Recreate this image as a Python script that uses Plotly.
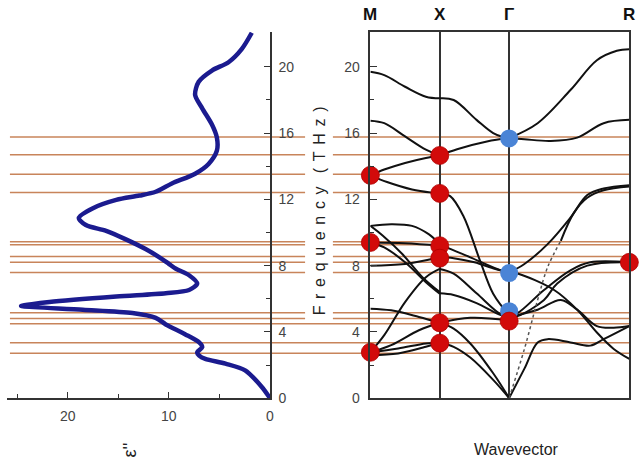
import plotly.graph_objects as go

# ---------------- data ----------------
eps2 = [0.0, 0.83, 2.46, 4.4, 6.4, 7.0, 7.2, 6.7, 7.0, 8.4, 10.3, 11.3, 13.6, 18.5, 24.4, 24.6,
        21.8, 15.2, 10.3, 8.0, 7.2, 8.0, 9.3, 10.0, 10.7, 12.3, 14.3, 16.2, 18.2, 18.9, 17.5,
        15.2, 12.9, 11.3, 9.7, 7.4, 6.07, 5.25, 5.25, 5.74, 6.7, 7.4, 7.05, 5.74, 4.1, 2.8, 1.8]
freq_eps = [0.0, 0.69, 1.68, 2.08, 2.37, 2.57, 2.77, 3.07, 3.36, 3.86, 4.45, 4.85, 5.14, 5.34, 5.54, 5.57,
            5.8, 6.13, 6.33, 6.53, 6.92, 7.42, 7.81, 8.11, 8.41, 9.0, 9.6, 10.1, 10.45, 10.88, 11.47,
            11.97, 12.23, 12.46, 12.96, 13.55, 14.14, 14.94, 15.73, 16.52, 17.5, 18.3, 19.1, 19.78, 20.28, 21.07, 22.06]

guide_freqs = [15.77, 14.70, 13.51, 12.42, 9.44, 9.26, 8.55, 8.21, 7.58, 5.15, 4.81, 4.49, 3.34, 2.71]

kpoint_labels = ["M", "X", "Γ", "R"]
kpoint_pos = [0.0, 0.5, 1.0, 1.866]

branches_MX = [
    [(0, 19.7), (0.2, 19.5), (0.5, 18.8), (0.8, 18.2), (1, 18.1)],
    [(0, 16.75), (0.2, 16.6), (0.5, 15.8), (0.8, 15.0), (1, 14.65)],
    [(0, 13.45), (0.2, 13.8), (0.5, 14.2), (0.8, 14.5), (1, 14.65)],
    [(0, 13.45), (0.24, 13.05), (0.6, 12.6), (0.9, 12.4), (1, 12.36)],
    [(0, 10.4), (0.3, 10.5), (0.6, 10.4), (0.84, 9.9), (1, 9.3)],
    [(0, 10.4), (0.18, 9.8), (0.46, 8.7), (0.75, 7.3), (1, 6.4)],
    [(0, 9.4), (0.5, 9.35), (1, 9.2)],
    [(0, 9.4), (0.2, 9.1), (0.5, 8.2), (0.8, 7.0), (1, 6.3)],
    [(0, 8.0), (0.5, 8.1), (1, 8.5)],
    [(0, 5.4), (0.3, 5.3), (0.7, 4.9), (1, 4.55)],
    [(0, 2.77), (0.2, 3.8), (0.5, 5.8), (0.8, 7.3), (1, 7.8)],
    [(0, 2.77), (0.3, 3.2), (0.7, 4.1), (1, 4.55)],
    [(0, 2.77), (0.4, 3.0), (0.8, 3.3), (1, 3.36)],
    [(0, 2.6), (0.4, 2.7), (0.8, 3.1), (1, 3.36)],
]
branches_XG = [
    [(0, 18.1), (0.2, 18.0), (0.53, 16.8), (0.77, 16.0), (0.92, 15.75), (1, 15.7)],
    [(0, 14.65), (0.25, 15.03), (0.68, 15.5), (1, 15.7)],
    [(0, 12.36), (0.15, 12.2), (0.34, 11.0), (0.58, 8.3), (0.77, 6.3), (1, 5.0)],
    [(0, 9.3), (0.1, 9.1), (0.44, 8.5), (0.89, 7.7), (1, 7.6)],
    [(0, 8.5), (0.2, 8.45), (0.5, 8.2), (0.8, 7.8), (1, 7.6)],
    [(0, 7.8), (0.2, 7.52), (0.53, 6.33), (0.89, 5.04), (1, 5.0)],
    [(0, 6.33), (0.2, 6.23), (0.53, 5.74), (0.89, 5.0), (1, 4.95)],
    [(0, 4.55), (0.44, 4.85), (1, 4.7)],
    [(0, 4.55), (0.2, 4.2), (0.44, 3.3), (0.77, 1.5), (1, 0.0)],
    [(0, 3.36), (0.2, 3.1), (0.44, 2.45), (0.77, 1.1), (1, 0.0)],
]
branches_GR = [
    [(0, 15.7), (0.237, 16.6), (0.51, 18.6), (0.73, 20.4), (0.896, 20.97), (1, 21.07)],
    [(0, 15.7), (0.127, 15.63), (0.346, 15.53), (0.566, 15.73), (0.786, 16.6), (1, 16.8)],
    [(0, 7.6), (0.127, 8.1), (0.32, 9.3), (0.51, 10.9), (0.65, 12.26), (0.786, 12.66), (1, 12.86)],
    [(0.43, 9.5), (0.54, 11.2), (0.65, 12.1), (0.786, 12.55), (1, 12.78)],
    [(0, 7.6), (0.07, 7.52), (0.374, 6.53), (0.566, 5.34), (0.73, 3.96), (0.87, 2.97), (1, 2.37)],
    [(0, 5.0), (0.07, 5.14), (0.29, 6.53), (0.51, 7.72), (0.675, 8.2), (1, 8.2)],
    [(0, 4.9), (0.07, 4.95), (0.29, 5.93), (0.40, 6.92), (0.65, 8.0), (1, 8.2)],
    [(0, 4.9), (0.237, 5.34), (0.43, 5.93), (0.566, 5.34), (0.73, 4.35), (0.87, 4.25), (1, 4.35)],
    [(0, 0.0), (0.127, 1.78), (0.237, 3.36), (0.32, 3.56), (0.51, 3.36), (0.675, 3.17), (0.786, 3.56), (1, 4.35)],
]
branch_GR_dotted = [(0, 0.0), (0.127, 2.97), (0.237, 5.93), (0.32, 7.9), (0.43, 9.5)]

red_modes = [(0, 13.45), (0, 9.4), (0, 2.77), (1, 14.65), (1, 12.36), (1, 9.2), (1, 8.45),
             (1, 4.55), (1, 3.32), (2, 4.65), (3, 8.2)]
blue_modes = [(2, 15.68), (2, 7.55), (2, 5.25)]

# ---------------- figure ----------------
W, H = 640, 472
fig = go.Figure()

fig.add_trace(go.Scatter(x=eps2, y=freq_eps, mode="lines", xaxis="x", yaxis="y",
                         line=dict(color="#1b1b8f", width=4.5, shape="spline", smoothing=0.8),
                         hoverinfo="skip", showlegend=False))

segments = [(0, 1, branches_MX), (1, 2, branches_XG), (2, 3, branches_GR)]
for a, b, brs in segments:
    k0, k1 = kpoint_pos[a], kpoint_pos[b]
    for br in brs:
        fig.add_trace(go.Scatter(x=[k0 + t * (k1 - k0) for t, _ in br], y=[w for _, w in br],
                                 mode="lines", xaxis="x2", yaxis="y2",
                                 line=dict(color="#111111", width=2, shape="spline", smoothing=1.0),
                                 hoverinfo="skip", showlegend=False))
k0, k1 = kpoint_pos[2], kpoint_pos[3]
fig.add_trace(go.Scatter(x=[k0 + t * (k1 - k0) for t, _ in branch_GR_dotted],
                         y=[w for _, w in branch_GR_dotted], mode="lines", xaxis="x2", yaxis="y2",
                         line=dict(color="#555555", width=1.5, dash="dot", shape="spline"),
                         hoverinfo="skip", showlegend=False))

fig.add_trace(go.Scatter(x=[kpoint_pos[i] for i, _ in blue_modes], y=[w for _, w in blue_modes],
                         mode="markers", xaxis="x2", yaxis="y2", cliponaxis=False,
                         marker=dict(size=18, color="#4a84d6", line=dict(width=0)),
                         hoverinfo="skip", showlegend=False))
fig.add_trace(go.Scatter(x=[kpoint_pos[i] for i, _ in red_modes], y=[w for _, w in red_modes],
                         mode="markers", xaxis="x2", yaxis="y2", cliponaxis=False,
                         marker=dict(size=18, color="#d20a0a", line=dict(width=0.8, color="#b00000")),
                         hoverinfo="skip", showlegend=False))

left_x0, left_x1 = 7, 271.7
right_x0, right_x1 = 372.7, 633.3
y_bot, y_top = 405, 32.3
ymax = 22.12
px = lambda p: p / W
py = lambda p: 1 - p / H

FONT = "Arial, Liberation Sans, sans-serif"
tickfont = dict(family=FONT, size=14, color="#444444")
axcol = "#333333"

shapes = []
for f in guide_freqs:
    pieces = [(10, 307), (335, 633)] if f > 4.65 else [(10, 633)]
    for a, b in pieces:
        shapes.append(dict(type="line", xref="paper", yref="y", x0=px(a), x1=px(b), y0=f, y1=f,
                           line=dict(color="#c8845a", width=1.5), layer="between"))

fig.update_layout(
    width=W, height=H, margin=dict(l=0, r=0, t=0, b=0),
    paper_bgcolor="white", plot_bgcolor="rgba(0,0,0,0)",
    showlegend=False,
    xaxis=dict(domain=[px(left_x0), px(left_x1)], range=[26, 0], anchor="y",
               tickvals=[0, 10, 20], ticks="inside", ticklen=6, tickcolor=axcol,
               showline=True, linecolor=axcol, linewidth=1.5, showgrid=False, zeroline=False,
               tickfont=tickfont, ticklabelstandoff=4,
               minor=dict(tickvals=[5, 15, 25], ticks="inside", ticklen=4, tickcolor=axcol)),
    yaxis=dict(domain=[py(y_bot), py(y_top)], range=[0, ymax], anchor="x", side="right",
               tickvals=[0, 4, 8, 12, 16, 20], ticks="inside", ticklen=6, tickcolor=axcol,
               showline=True, linecolor=axcol, linewidth=1.5, showgrid=False, zeroline=False,
               tickfont=tickfont, ticklabelstandoff=4,
               minor=dict(tickvals=[2, 6, 10, 14, 18], ticks="inside", ticklen=4, tickcolor=axcol)),
    xaxis2=dict(domain=[px(right_x0), px(right_x1)], range=[0, kpoint_pos[-1]], anchor="y2",
                tickvals=kpoint_pos, showticklabels=False, ticks="",
                showgrid=True, gridcolor="#333333", gridwidth=1.5,
                showline=True, mirror=True, linecolor=axcol, linewidth=1.5, zeroline=False),
    yaxis2=dict(domain=[py(y_bot), py(y_top)], range=[0, ymax], anchor="x2",
                tickvals=[0, 4, 8, 12, 16, 20], ticks="inside", ticklen=7, tickcolor=axcol,
                showline=True, mirror=True, linecolor=axcol, linewidth=1.5, showgrid=False,
                zeroline=False, tickfont=tickfont, ticklabelstandoff=6,
                minor=dict(tickvals=[2, 6, 10, 14, 18], ticks="inside", ticklen=4, tickcolor=axcol)),
    shapes=shapes,
)

annotations = []
for lab, k in zip(kpoint_labels, kpoint_pos):
    annotations.append(dict(x=k, y=py(15), xref="x2", yref="paper", xanchor="center", yanchor="middle",
                            text=f"<b>{lab}</b>", showarrow=False,
                            font=dict(family=FONT, size=17, color="#111111")))
gap = "\u2005\u2006"
freq_label = gap.join("Frequency") + gap + gap + gap.join("(THz)")
annotations.append(dict(x=px(321), y=py(214), xref="paper", yref="paper", xanchor="center",
                        yanchor="middle", showarrow=False, text=freq_label, textangle=-90,
                        font=dict(family=FONT, size=16, color="#222222")))
annotations.append(dict(x=px(520), y=py(457), xref="paper", yref="paper", xanchor="center",
                        yanchor="middle", showarrow=False, text="Wavevector",
                        font=dict(family=FONT, size=16, color="#222222")))
annotations.append(dict(x=px(131), y=py(458), xref="paper", yref="paper", xanchor="center",
                        yanchor="middle", showarrow=False, text="ε''", textangle=-90,
                        font=dict(family=FONT, size=18, color="#222222")))
fig.update_layout(annotations=annotations)

fig.write_html("out.html")
